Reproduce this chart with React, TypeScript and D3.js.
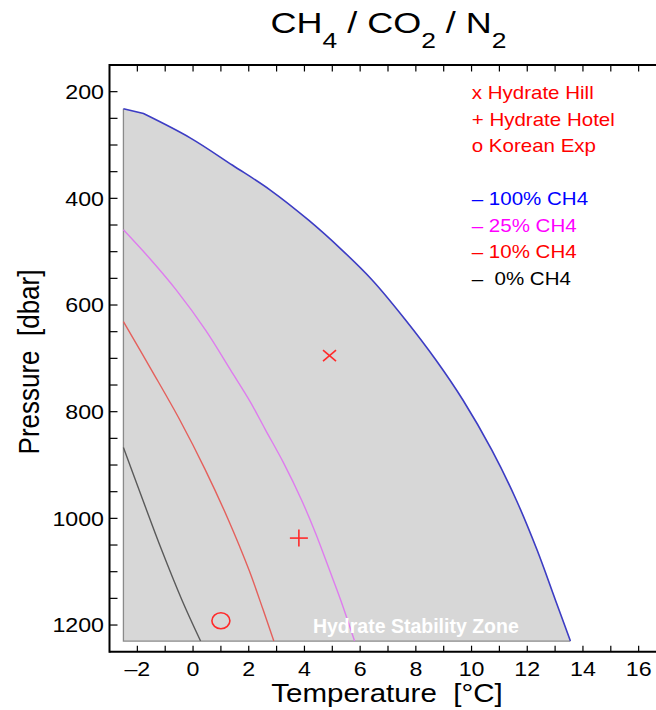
import React from "react";
import * as d3 from "d3";

const W = 656;
const H = 710;
const FONT = "'Liberation Sans', Arial, Helvetica, sans-serif";
const SX = 1.16; // horizontal stretch of the reference's text

// axes
const tempDomain = [-3, 18];
const pressureDomain = [150, 1250];
const xTickLabels = [-2, 0, 2, 4, 6, 8, 10, 12, 14, 16];
const xMinorTicks = d3.range(-2, 18, 1);
const yTickLabels = [200, 400, 600, 800, 1000, 1200];
const yMinorTicks = d3.range(200, 1250, 50);

// hydrate stability curves (temperature °C, pressure dbar)
const ch4_100_T = [-2.5, -1.78, -0.09, 1.42, 2.76, 4.15, 5.35, 6.43, 7.63, 8.72, 9.69, 10.73, 11.61, 12.35, 13.01, 13.55];
const ch4_100_P = [232, 241, 287, 338, 384, 441, 497, 553, 628, 703, 778, 872, 966, 1059, 1153, 1230];
const ch4_25_T = [-2.5, -1.5, -0.6, 0.45, 1.35, 2.05, 2.6, 3.25, 3.9, 4.4, 4.9, 5.3, 5.8];
const ch4_25_P = [459, 516, 572, 647, 722, 781, 834, 896, 966, 1028, 1097, 1153, 1230];
const ch4_10_T = [-2.5, -1.49, -0.47, 0.44, 1.27, 2.01, 2.52, 2.9];
const ch4_10_P = [631, 722, 816, 909, 1003, 1097, 1172, 1230];
const ch4_0_T = [-2.5, -1.8, -1.13, -0.4, 0.27];
const ch4_0_P = [867, 966, 1059, 1153, 1230];

// stability zone limits
const zoneLeftT = -2.5;
const zoneBottomP = 1230;

// sites
const siteNames = ["Hydrate Hill", "Hydrate Hotel", "Korean Exp"];
const siteSymbols = ["x", "+", "o"];
const siteT = [4.9, 3.8, 1.0];
const siteP = [695, 1037, 1192];

// legend of curves
const curveLabels = ["100% CH4", "25% CH4", "10% CH4", " 0% CH4"];
const curveTextColors = ["#0000ff", "#ff00ff", "#ff0000", "#000000"];
const curveLineColors = ["#3c3cc4", "#de7cee", "#e4605c", "#5a5a5a"];

const zip = (t: number[], p: number[]) => t.map((v, i) => [v, p[i]] as [number, number]);
const curves = [zip(ch4_100_T, ch4_100_P), zip(ch4_25_T, ch4_25_P), zip(ch4_10_T, ch4_10_P), zip(ch4_0_T, ch4_0_P)];

export default function App() {
  const x = d3.scaleLinear().domain(tempDomain).range([109.5, 109.5 + 21 * 27.85]);
  const y = d3.scaleLinear().domain(pressureDomain).range([65, 651.7]);
  const line = d3
    .line<[number, number]>()
    .x((d) => x(d[0]))
    .y((d) => y(d[1]))
    .curve(d3.curveCatmullRom.alpha(0.5));

  // 100% CH4: short straight first segment (kink), then smooth curve
  const blue = curves[0];
  const bluePath = `M${x(blue[0][0])},${y(blue[0][1])}L${(line(blue.slice(1)) as string).slice(1)}`;
  const fillPath = `${bluePath}L${x(zoneLeftT)},${y(zoneBottomP)}Z`;
  const last = blue[blue.length - 1];
  const borderPath = `M${x(zoneLeftT)},${y(blue[0][1])}L${x(zoneLeftT)},${y(zoneBottomP)}L${x(last[0])},${y(zoneBottomP)}`;

  const axisLeft = x(tempDomain[0]);
  const axisBottom = y(pressureDomain[1]);
  const axisTop = y(pressureDomain[0]);
  const mark = "#ff2a2a";

  const legendX = 471.7;
  const siteY = [99.3, 125.6, 151.9];
  const curveY = [205, 231.7, 258.3, 285];

  return (
    <svg
      width={W}
      height={H}
      style={{ position: "absolute", left: 0, top: 0, background: "#fff" }}
      fontFamily={FONT}
    >
      {/* stability zone */}
      <path d={fillPath} fill="#d7d7d7" stroke="none" />
      <path d={borderPath} fill="none" stroke="#8a8a8a" strokeWidth={1.3} />
      {curves.slice(1).map((c, i) => (
        <path key={i} d={line(c) as string} fill="none" stroke={curveLineColors[i + 1]} strokeWidth={1.4} />
      ))}
      <path d={bluePath} fill="none" stroke={curveLineColors[0]} strokeWidth={1.6} />

      <text x={x(8)} y={y(1215)} textAnchor="middle" fontSize={19.5} fontWeight="bold" fill="#ffffff">
        Hydrate Stability Zone
      </text>

      {/* site markers */}
      {siteSymbols.map((s, i) => {
        const cx = x(siteT[i]);
        const cy = y(siteP[i]);
        if (s === "x")
          return (
            <g key={i} stroke={mark} strokeWidth={1.6}>
              <line x1={cx - 6.5} y1={cy - 5.5} x2={cx + 6.5} y2={cy + 5.5} />
              <line x1={cx - 6.5} y1={cy + 5.5} x2={cx + 6.5} y2={cy - 5.5} />
            </g>
          );
        if (s === "+")
          return (
            <g key={i} stroke={mark} strokeWidth={1.6}>
              <line x1={cx - 9} y1={cy} x2={cx + 9} y2={cy} />
              <line x1={cx} y1={cy - 8.5} x2={cx} y2={cy + 8.5} />
            </g>
          );
        return <ellipse key={i} cx={cx} cy={cy} rx={9} ry={8} fill="none" stroke={mark} strokeWidth={1.6} />;
      })}

      {/* axes frame */}
      <g stroke="#000" strokeWidth={2} fill="none">
        <line x1={axisLeft} y1={axisTop} x2={W + 5} y2={axisTop} />
        <line x1={axisLeft} y1={axisBottom} x2={W + 5} y2={axisBottom} />
        <line x1={axisLeft} y1={axisTop - 1} x2={axisLeft} y2={axisBottom + 1} />
      </g>
      <g stroke="#000" strokeWidth={1.2}>
        {xMinorTicks.map((t) => (
          <g key={t}>
            <line x1={x(t)} x2={x(t)} y1={axisBottom} y2={axisBottom - 6} />
            <line x1={x(t)} x2={x(t)} y1={axisTop} y2={axisTop + 6.5} />
          </g>
        ))}
        {yMinorTicks.map((p) => (
          <line key={p} x1={axisLeft} x2={axisLeft + 8} y1={y(p)} y2={y(p)} />
        ))}
      </g>

      {/* tick labels */}
      {xTickLabels.map((t) => (
        <g key={t} transform={`translate(${x(t)},${axisBottom + 24.5}) scale(${SX},1)`}>
          <text textAnchor="middle" fontSize={20} fill="#000">
            {t < 0 ? `\u2013${Math.abs(t)}` : t}
          </text>
        </g>
      ))}
      {yTickLabels.map((p) => (
        <g key={p} transform={`translate(${axisLeft - 5.5},${y(p) + 7.3}) scale(${SX},1)`}>
          <text textAnchor="end" fontSize={20} fill="#000">
            {p}
          </text>
        </g>
      ))}

      {/* axis titles */}
      <g transform={`translate(387,701.5) scale(1.18,1)`}>
        <text textAnchor="middle" fontSize={25} fill="#000" style={{ whiteSpace: "pre" }}>
          {"Temperature  [\u00B0C]"}
        </text>
      </g>
      <g transform={`translate(39,362) scale(${SX},1) rotate(-90)`}>
        <text textAnchor="middle" fontSize={26} fill="#000" style={{ whiteSpace: "pre" }}>
          {"Pressure  [dbar]"}
        </text>
      </g>

      {/* title */}
      <g transform={`translate(388.5,33.3) scale(1.2,1)`}>
        <text textAnchor="middle" fontSize={30} fill="#000" style={{ whiteSpace: "pre" }}>
          CH
          <tspan fontSize={22} dy={15}>4</tspan>
          <tspan dy={-15}>{" / CO"}</tspan>
          <tspan fontSize={22} dy={15}>2</tspan>
          <tspan dy={-15}>{" / N"}</tspan>
          <tspan fontSize={22} dy={15}>2</tspan>
        </text>
      </g>

      {/* legend */}
      {siteNames.map((n, i) => (
        <g key={n} transform={`translate(${legendX},${siteY[i]}) scale(${SX},1)`}>
          <text fontSize={17.7} fill="#ff0000" style={{ whiteSpace: "pre" }}>
            {`${siteSymbols[i]} ${n}`}
          </text>
        </g>
      ))}
      {curveLabels.map((n, i) => (
        <g key={n} transform={`translate(${legendX},${curveY[i]}) scale(${SX},1)`}>
          <text fontSize={17.7} fill={curveTextColors[i]} style={{ whiteSpace: "pre" }}>
            {`\u2013 ${n}`}
          </text>
        </g>
      ))}
    </svg>
  );
}
